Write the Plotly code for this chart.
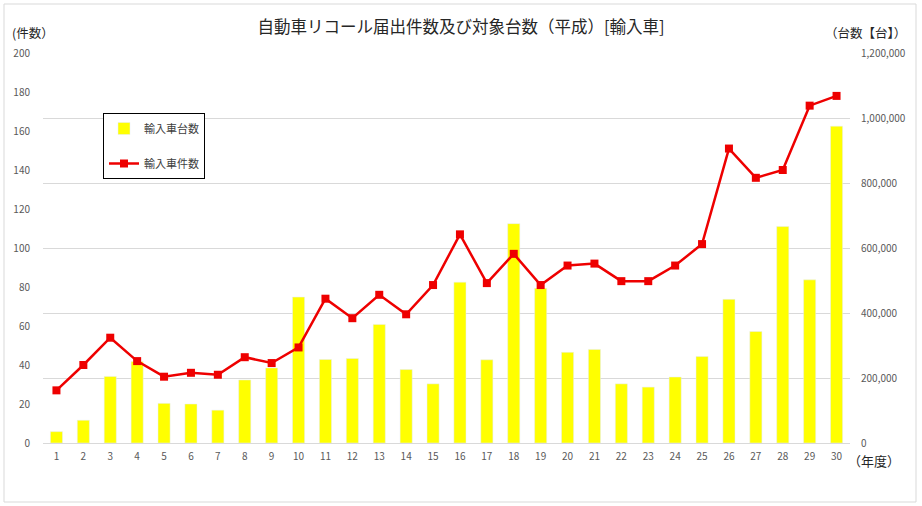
import plotly.graph_objects as go

years = [str(i) for i in range(1, 31)]
cars = [35000, 70000, 205000, 251000, 122000, 120000, 101000, 194000, 231000, 449000,
        257000, 260000, 365000, 226000, 182000, 495000, 256000, 675000, 476000, 279000,
        288000, 182000, 172000, 203000, 266000, 442000, 343000, 666000, 502000, 975000]
cases = [27, 40, 54, 42, 34, 36, 35, 44, 41, 49,
         74, 64, 76, 66, 81, 107, 82, 97, 81, 91,
         92, 83, 83, 91, 102, 151, 136, 140, 173, 178]

FONT = "Noto Sans CJK JP"
TICK = dict(family=FONT, size=10, color="#595959")

fig = go.Figure()
fig.add_trace(go.Bar(x=years, y=cars, name="輸入車台数", marker_color="#FFFF00",
                     width=0.45, yaxis="y", legendgroup="a"))
fig.add_trace(go.Scatter(x=years, y=cases, name="輸入車件数", mode="lines+markers",
                         line=dict(color="#EE0000", width=2.5),
                         marker=dict(symbol="square", size=8, color="#EE0000"),
                         yaxis="y2", legendgroup="b"))

L, R, T, B = 43, 850, 53, 443
W, H = R - L, B - T

def px(x):
    return (x - L) / W

def py(y):
    return (B - y) / H

fig.update_layout(
    width=922, height=506,
    margin=dict(l=L, r=922 - R, t=T, b=506 - B),
    paper_bgcolor="white", plot_bgcolor="white",
    font=dict(family=FONT, color="#404040"),
    title=dict(text="自動車リコール届出件数及び対象台数（平成）[輸入車]",
               x=0.5, xanchor="center", y=1 - 27 / 506, yanchor="middle",
               font=dict(family=FONT, size=16.5, color="#262626")),
    xaxis=dict(type="category", range=[-0.5, 29.5], autorange=False,
               showgrid=False, showline=True, linecolor="#D9D9D9",
               linewidth=1, tickfont=TICK, ticks="", ticklabelstandoff=4),
    yaxis=dict(side="right", range=[0, 1200000], dtick=200000, tickformat=",",
               showgrid=True, gridcolor="#D9D9D9", gridwidth=1, zeroline=False,
               tickfont=TICK, ticklabelstandoff=10),
    yaxis2=dict(side="left", overlaying="y", range=[0, 200], dtick=20,
                showgrid=False, zeroline=False, tickfont=TICK, ticklabelstandoff=12),
    legend=dict(x=px(103), y=py(113), xanchor="left", yanchor="top",
                bordercolor="#000000", borderwidth=1, bgcolor="white",
                font=dict(family=FONT, size=11, color="#404040"),
                tracegroupgap=16, itemwidth=30),
    showlegend=True,
)

fig.add_shape(type="rect", xref="paper", yref="paper",
              x0=px(4), x1=px(916), y0=py(502), y1=py(4),
              line=dict(color="#D9D9D9", width=1), layer="below")

fig.add_annotation(text="(件数）", xref="paper", yref="paper", x=px(10), y=py(33),
                   xanchor="left", yanchor="middle", showarrow=False,
                   font=dict(family=FONT, size=12.5, color="#262626"))
fig.add_annotation(text="（台数【台】）", xref="paper", yref="paper", x=px(908), y=py(33),
                   xanchor="right", yanchor="middle", showarrow=False,
                   font=dict(family=FONT, size=12.5, color="#262626"))
fig.add_annotation(text="（年度）", xref="paper", yref="paper", x=px(846), y=py(460),
                   xanchor="left", yanchor="middle", showarrow=False,
                   font=dict(family=FONT, size=13, color="#262626"))

fig.write_html("out.html")
